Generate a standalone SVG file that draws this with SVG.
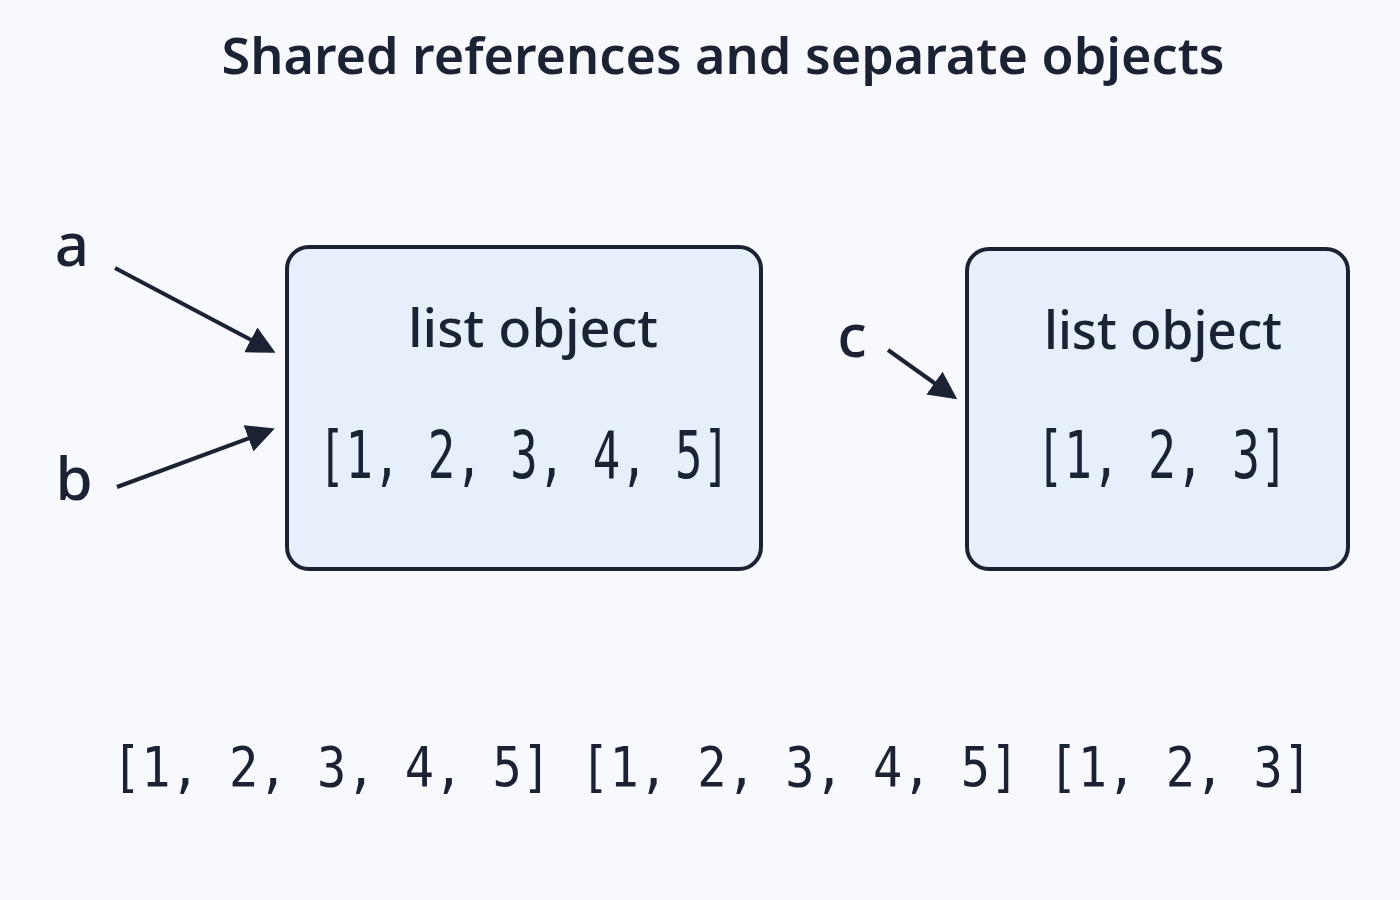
<svg xmlns="http://www.w3.org/2000/svg" width="1400" height="900" viewBox="0 0 1400 900">
<style>
.t{font-family:"Noto Sans","Liberation Sans",sans-serif;fill:#1a2233;text-anchor:middle}
.m{font-family:"DejaVu Sans Mono","Liberation Mono",monospace;fill:#1a2233;text-anchor:middle}
.box{fill:#e6effa;stroke:#1a2233;stroke-width:4}
.c{stroke:#1a2233;stroke-width:4;fill:none;marker-end:url(#ah)}
</style>
<defs><marker id="ah" markerWidth="7" markerHeight="7" refX="6" refY="3.5" orient="auto" markerUnits="strokeWidth"><path d="M0,0 L7,3.5 L0,7 z" fill="#1a2233"/></marker></defs>
<rect width="1400" height="900" fill="#f7f9fc"/>
<text class="t" x="723" y="74" font-size="50" font-weight="600" textLength="1003" lengthAdjust="spacingAndGlyphs">Shared references and separate objects</text>
<g id="box1"><rect class="box" x="287" y="247" width="474" height="322" rx="22"/>
<text class="t" x="533" y="347" font-size="52" font-weight="500" textLength="250" lengthAdjust="spacingAndGlyphs">list object</text>
<text class="m" x="524" y="478" font-size="66" textLength="412" lengthAdjust="spacingAndGlyphs">[1, 2, 3, 4, 5]</text></g>
<g id="box2"><rect class="box" x="967" y="249" width="381" height="320" rx="22"/>
<text class="t" x="1163" y="349" font-size="52" font-weight="500" textLength="238" lengthAdjust="spacingAndGlyphs">list object</text>
<text class="m" x="1162" y="478" font-size="66" textLength="252" lengthAdjust="spacingAndGlyphs">[1, 2, 3]</text></g>
<g id="labels">
<text class="t" x="72" y="266" font-size="60" font-weight="500">a</text>
<text class="t" x="74" y="500" font-size="60" font-weight="500">b</text>
<text class="t" x="852" y="357" font-size="60" font-weight="500">c</text></g>
<g id="connectors">
<line class="c" x1="115" y1="268" x2="272" y2="351"/>
<line class="c" x1="117" y1="487" x2="271" y2="430"/>
<line class="c" x1="888" y1="350" x2="954" y2="397"/>
</g>
<text class="m" x="712" y="786" font-size="56" textLength="1200" lengthAdjust="spacingAndGlyphs">[1, 2, 3, 4, 5] [1, 2, 3, 4, 5] [1, 2, 3]</text>
</svg>
